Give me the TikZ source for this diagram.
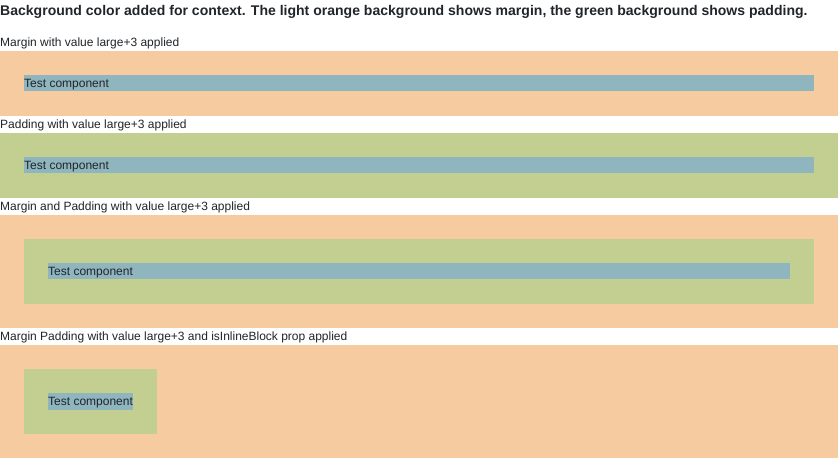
\documentclass[tikz,border=0pt]{standalone}
\usepackage{fontspec}
\setmainfont{Liberation Sans}
\definecolor{marginbg}{HTML}{F6CBA0}
\definecolor{paddingbg}{HTML}{C3CE91}
\definecolor{compbg}{HTML}{8FB5BF}
\definecolor{ink}{HTML}{212529}
\begin{document}
\begin{tikzpicture}[x=1pt,y=-1pt,
  txt/.style={anchor=base west,inner sep=0pt,text=ink,font=\fontsize{12}{14}\selectfont},
  heading/.style={anchor=base west,inner sep=0pt,text=ink,font=\fontsize{14.03}{17}\selectfont\bfseries}]
\useasboundingbox (0,0) rectangle (838,458);
\fill[white] (0,0) rectangle (838,458);

\node[heading] (title) at (0,15.3) {Background color added for context. The light orange background shows margin, the green background shows padding.};

% 1: margin only
\node[txt] (l1) at (0,46) {Margin with value large+3 applied};
\fill[marginbg] (0,51) rectangle (838,116);
\fill[compbg] (24,75) rectangle (814,91);
\node[txt] (c1) at (24,87.3) {Test component};

% 2: padding only
\node[txt] (l2) at (0,128) {Padding with value large+3 applied};
\fill[paddingbg] (0,133) rectangle (838,198);
\fill[compbg] (24,157) rectangle (814,173);
\node[txt] (c2) at (24,169.3) {Test component};

% 3: margin and padding
\node[txt] (l3) at (0,210) {Margin and Padding with value large+3 applied};
\fill[marginbg] (0,215) rectangle (838,328);
\fill[paddingbg] (24,239) rectangle (814,304);
\fill[compbg] (48,263) rectangle (790,279);
\node[txt] (c3) at (48,275.3) {Test component};

% 4: margin and padding, inline block
\node[txt] (l4) at (0,340) {Margin Padding with value large+3 and isInlineBlock prop applied};
\fill[marginbg] (0,345) rectangle (838,458);
\fill[paddingbg] (24,369) rectangle (157,434);
\fill[compbg] (48,393) rectangle (133,409.7);
\node[txt] (c4) at (48,405.3) {Test component};
\end{tikzpicture}
\end{document}
